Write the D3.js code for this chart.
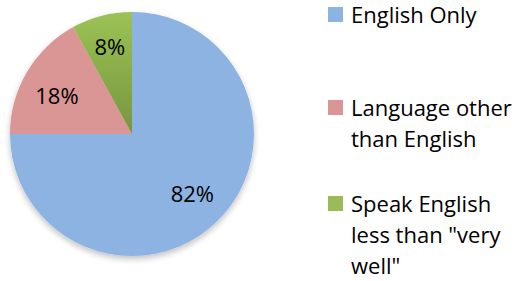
<!DOCTYPE html>
<html>
<head>
<meta charset="utf-8">
<script src="https://cdn.jsdelivr.net/npm/d3@7"></script>
<style>
  body { margin: 0; background: #fff; }
  svg { display: block; }
</style>
</head>
<body>
<div id="container"></div>
<script>
/* CONSTANTS AND GLOBALS */
const width = 521,
      height = 281,
      cx = 132, cy = 134, radius = 122;

// data
const categories = ["English Only", "Language other than English", "Speak English less than \"very well\""];
const sliceShares = [75, 17, 8];          // slice sizes as drawn
const labelTexts = ["82%", "18%", "8%"];   // labels as printed
const legendLines = [["English Only"], ["Language other", "than English"], ["Speak English", "less than \"very", "well\""]];
const colors = ["#8DB3E2", "#D99694", "#9BBB59"];

const data = categories.map((c, i) => ({ name: c, value: sliceShares[i], label: labelTexts[i] }));

const svg = d3.select("#container")
  .append("svg")
  .attr("width", width)
  .attr("height", height);

const defs = svg.append("defs");
const shadow = defs.append("filter").attr("id", "shadow")
  .attr("x", "-20%").attr("y", "-20%").attr("width", "140%").attr("height", "140%");
shadow.append("feGaussianBlur").attr("in", "SourceAlpha").attr("stdDeviation", 3);
shadow.append("feOffset").attr("dy", 3).attr("result", "b");
shadow.append("feComponentTransfer").append("feFuncA").attr("type", "linear").attr("slope", 0.25);
const merge = shadow.append("feMerge");
merge.append("feMergeNode");
merge.append("feMergeNode").attr("in", "SourceGraphic");

const greenGrad = defs.append("linearGradient").attr("id", "greenGrad")
  .attr("x1", 0).attr("y1", 0).attr("x2", 0).attr("y2", 1);
greenGrad.append("stop").attr("offset", "0%").attr("stop-color", "#9BC254");
greenGrad.append("stop").attr("offset", "100%").attr("stop-color", "#77963F");

const pie = d3.pie().sort(null).value(d => d.value);
const arc = d3.arc().innerRadius(0).outerRadius(radius);
const arcs = pie(data);

const g = svg.append("g")
  .attr("transform", `translate(${cx},${cy})`)
  .attr("filter", "url(#shadow)");

g.selectAll("path")
  .data(arcs)
  .join("path")
  .attr("d", arc)
  .attr("fill", (d, i) => i === 2 ? "url(#greenGrad)" : colors[i]);

// label placement inside each slice: radius fraction, position across the slice
const labelRadius = [0.70, 0.69, 0.73];
const labelSpread = [0.5, 0.44, 0.5];
const font = "'Open Sans', Lato, sans-serif";
svg.append("g")
  .attr("transform", `translate(${cx},${cy})`)
  .selectAll("text")
  .data(arcs)
  .join("text")
  .attr("transform", (d, i) => {
    const a = d.startAngle + (d.endAngle - d.startAngle) * labelSpread[i];
    const r = radius * labelRadius[i];
    return `translate(${Math.sin(a) * r},${-Math.cos(a) * r})`;
  })
  .attr("text-anchor", "middle")
  .attr("dy", "0.35em")
  .attr("font-family", font)
  .attr("font-size", 22)
  .attr("fill", "#000")
  .text(d => d.data.label);

// legend (y = baseline of first line)
const legendBase = [23, 116, 212];
const lineStep = 31;
const legend = svg.append("g").attr("transform", "translate(328,0)");
const item = legend.selectAll("g")
  .data(legendLines)
  .join("g")
  .attr("transform", (d, i) => `translate(0,${legendBase[i]})`);

item.append("rect")
  .attr("x", 0).attr("y", -16)
  .attr("width", 15).attr("height", 15)
  .attr("fill", (d, i) => colors[i]);

item.selectAll("text")
  .data(d => d)
  .join("text")
  .attr("x", 23)
  .attr("y", (d, j) => j * lineStep)
  .attr("font-family", font)
  .attr("font-size", 22)
  .attr("fill", "#000")
  .text(d => d);
</script>
</body>
</html>
